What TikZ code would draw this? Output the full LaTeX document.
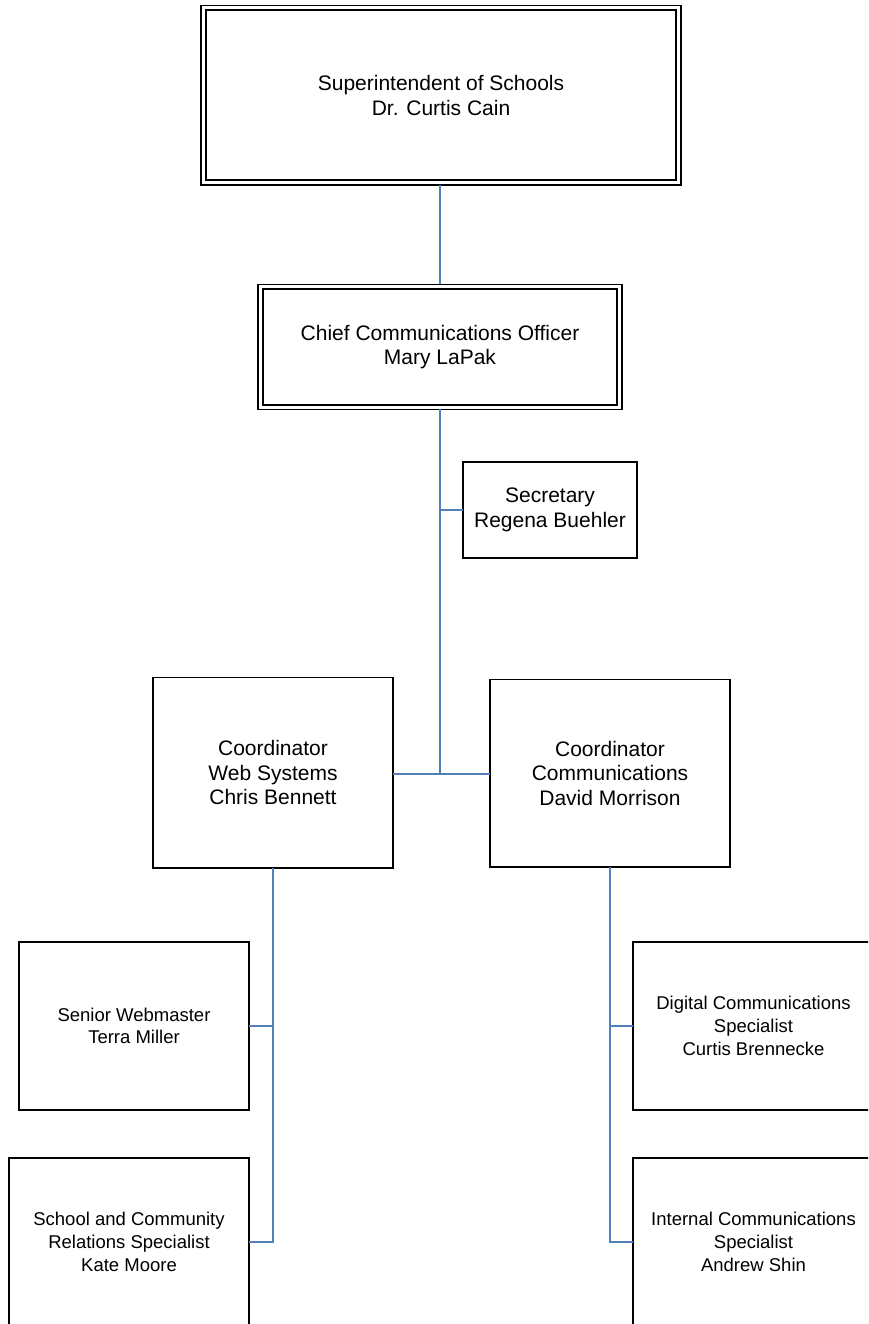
\documentclass[tikz,border=0pt]{standalone}
\usepackage{fontspec}
\setmainfont{Liberation Sans}
\begin{document}
\begin{tikzpicture}[x=1pt,y=-1pt,
  box/.style={draw=black, line width=1.6pt, fill=white, inner sep=0pt, outer sep=0pt,
              align=center, font=\fontsize{21}{24.4}\selectfont},
  smallbox/.style={box, font=\fontsize{18.5}{22.7}\selectfont},
  outerframe/.style={box, line width=1.4pt},
  link/.style={draw={rgb,255:red,79;green,129;blue,189}, line width=1.5pt}]
\useasboundingbox (0,0) rectangle (868,1324);
\clip (0,0) rectangle (868,1324);

% top two levels, double framed
\node[outerframe, minimum width=480pt, minimum height=179.3pt] (super) at (441,95.35)
  {Superintendent of Schools\\Dr. Curtis Cain};
\node[outerframe, minimum width=364pt, minimum height=125pt] (chief) at (440,346.8)
  {Chief Communications Officer\\Mary LaPak};
\foreach \n in {super,chief}
  \draw[line width=1.9pt] ([xshift=4.7pt,yshift=-4.7pt]\n.north west)
    rectangle ([xshift=-4.7pt,yshift=4.7pt]\n.south east);

% assistant and coordinators
\node[box, minimum width=174pt, minimum height=96pt] (sec) at (550,510)
  {Secretary\\Regena Buehler};
\node[box, minimum width=240pt, minimum height=190.3pt] (coordL) at (273,772.8)
  {Coordinator\\Web Systems\\Chris Bennett};
\node[box, minimum width=240pt, minimum height=187.7pt] (coordR) at (610,773.2)
  {Coordinator\\Communications\\David Morrison};

% staff
\node[smallbox, minimum width=230pt, minimum height=168pt] (webm) at (134,1026)
  {Senior Webmaster\\Terra Miller};
\node[smallbox, minimum width=240pt, minimum height=168pt] (kate) at (129,1242)
  {School and Community\\Relations Specialist\\Kate Moore};
\node[smallbox, minimum width=241pt, minimum height=168pt] (digital) at (753.5,1026)
  {Digital Communications\\Specialist\\Curtis Brennecke};
\node[smallbox, minimum width=241pt, minimum height=168pt] (internal) at (753.5,1242)
  {Internal Communications\\Specialist\\Andrew Shin};

% reporting lines
\coordinate (j) at (440,774);
\draw[link] (chief.north |- super.south) -- (chief.north);
\draw[link] (chief.south) -- (j);
\draw[link] (chief.south |- sec.west) -- (sec.west);
\draw[link] (coordL.east |- j) -- (coordR.west |- j);

\draw[link] (coordL.south) -- (coordL.south |- kate.east) -- (kate.east);
\draw[link] (coordL.south |- webm.east) -- (webm.east);
\draw[link] (coordR.south) -- (coordR.south |- internal.west) -- (internal.west);
\draw[link] (coordR.south |- digital.west) -- (digital.west);
\end{tikzpicture}
\end{document}
